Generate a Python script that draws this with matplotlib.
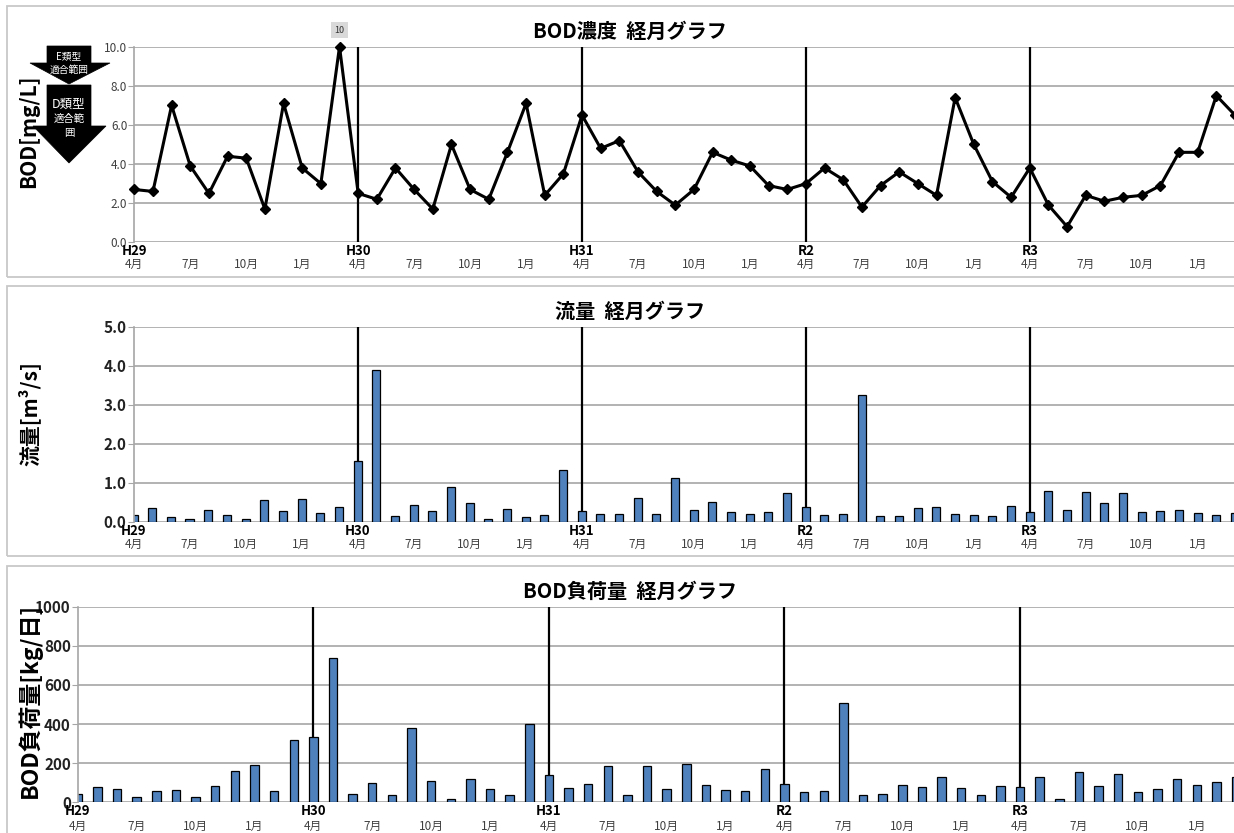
#!/usr/bin/env python3

import matplotlib
matplotlib.use('Agg')
import matplotlib.pyplot as plt
from matplotlib.patches import Polygon, Rectangle
import numpy as np

plt.rcParams['font.family'] = ['Noto Sans CJK JP', 'DejaVu Sans']

# monthly data, H29 Apr .. R4 Mar
years = ['H29', 'H30', 'H31', 'R2', 'R3']
months = ['4月', '7月', '10月', '1月']

bod = [2.7, 2.6, 7.0, 3.9, 2.5, 4.4, 4.3, 1.7, 7.1, 3.8, 3.0, 10.0,
       2.5, 2.2, 3.8, 2.7, 1.7, 5.0, 2.7, 2.2, 4.6, 7.1, 2.4, 3.5,
       6.5, 4.8, 5.2, 3.6, 2.6, 1.9, 2.7, 4.6, 4.2, 3.9, 2.9, 2.7,
       3.0, 3.8, 3.2, 1.8, 2.9, 3.6, 3.0, 2.4, 7.4, 5.0, 3.1, 2.3,
       3.8, 1.9, 0.8, 2.4, 2.1, 2.3, 2.4, 2.9, 4.6, 4.6, 7.5, 6.5]

flow = [0.18, 0.35, 0.12, 0.08, 0.29, 0.17, 0.08, 0.55, 0.27, 0.59, 0.23, 0.37,
        1.56, 3.88, 0.14, 0.43, 0.27, 0.88, 0.49, 0.08, 0.32, 0.11, 0.17, 1.33,
        0.27, 0.19, 0.21, 0.61, 0.19, 1.13, 0.30, 0.50, 0.26, 0.19, 0.24, 0.73,
        0.37, 0.16, 0.21, 3.26, 0.15, 0.14, 0.35, 0.38, 0.20, 0.17, 0.15, 0.41,
        0.25, 0.78, 0.30, 0.76, 0.47, 0.73, 0.26, 0.28, 0.31, 0.23, 0.17, 0.23]

load = [43, 80, 70, 26, 60, 65, 26, 82, 160, 191, 58, 317,
        336, 739, 44, 100, 37, 378, 111, 15, 119, 66, 36, 400,
        140, 73, 95, 184, 39, 184, 66, 196, 87, 63, 58, 169,
        94, 55, 60, 508, 37, 41, 90, 78, 131, 72, 37, 82,
        78, 128, 19, 157, 82, 143, 55, 68, 119, 90, 104, 128]

W, H = 1234, 833
fig = plt.figure(figsize=(W / 100, H / 100), dpi=100)


def fx(x):
    return x / W


def fy(y):
    return 1 - y / H


def make_ax(left, right, top, bottom):
    return fig.add_axes([fx(left), fy(bottom), fx(right - left), (bottom - top) / H])


GRID = '#a6a6a6'
BLUE = '#4f81bd'
x = np.arange(len(bod))
nx = len(bod) - 1


def setup(ax, ymax, step, fmt, tick_font, ypos_year, ypos_month, bold_ticks):
    ax.set_xlim(0, nx)
    ax.set_ylim(0, ymax)
    ticks = np.arange(0, ymax + step / 2, step)
    ax.set_yticks(ticks)
    ax.set_yticklabels([fmt.format(t) for t in ticks], fontsize=tick_font,
                       fontweight='bold' if bold_ticks else 'normal',
                       color='#222222' if bold_ticks else '#404040')
    ax.yaxis.grid(True, color=GRID, lw=1.2, zorder=0)
    ax.set_axisbelow(True)
    ax.tick_params(axis='y', length=4, color=GRID, pad=1)
    for s in ['top', 'right', 'bottom']:
        ax.spines[s].set_visible(False)
    ax.spines['left'].set_color(GRID)
    ax.spines['left'].set_linewidth(1.2)
    mt = [i for i in x if i % 3 == 0]
    ax.set_xticks(mt)
    ax.set_xticklabels([months[(i // 3) % 4] for i in mt], fontsize=8.5, color='#404040')
    ax.tick_params(axis='x', length=0, pad=ypos_month)
    for k, yr in enumerate(years):
        ax.annotate(yr, (12 * k, 0), xycoords=('data', 'axes fraction'),
                    xytext=(0, -ypos_year), textcoords='offset points',
                    ha='center', va='center', fontsize=9.5, fontweight='bold')
    for k in range(1, len(years)):
        ax.axvline(12 * k, color='black', lw=1.6, zorder=1)


def border(top, bottom):
    fig.add_artist(Rectangle((fx(7), fy(bottom)), 1.2, (bottom - top) / H,
                             transform=fig.transFigure, fill=False,
                             edgecolor='#c8c8c8', lw=1.3))


border(6, 277)
border(286, 556)
border(566, 900)

# panel 1: BOD concentration
ax1 = make_ax(134.3, 1235, 46.7, 242.3)
setup(ax1, 10, 2, '{:.1f}', 8.5, 6.5, 11, False)
ax1.plot(x, bod, color='black', lw=2.2, marker='D', ms=5.5, zorder=3, clip_on=False)
ax1.set_xlim(0, nx)
imax = int(np.argmax(bod))
ax1.annotate('{:g}'.format(bod[imax]), (imax, bod[imax]), xytext=(0, 12),
             textcoords='offset points', ha='center', va='center', fontsize=6.5,
             color='#333333',
             bbox=dict(boxstyle='square,pad=0.35', fc='#d9d9d9', ec='none'))
fig.text(fx(630), fy(31), 'BOD濃度  経月グラフ', ha='center', va='center',
         fontsize=14.5, fontweight='bold')

# class arrows
def arrow(top, head, tip, sx0, sx1, hx0, hx1, cx):
    pts = [(sx0, top), (sx1, top), (sx1, head), (hx1, head), (cx, tip),
           (hx0, head), (sx0, head)]
    fig.add_artist(Polygon([(fx(a), fy(b)) for a, b in pts], closed=True,
                           transform=fig.transFigure, fc='black', ec='black', lw=0.5))


arrow(46, 63, 84, 47, 91, 30, 110, 69)
arrow(85, 126, 163, 47, 91, 33, 106, 69)
fig.text(fx(69), fy(57), 'E類型', color='white', ha='center', va='center', fontsize=7)
fig.text(fx(69), fy(70), '適合範囲', color='white', ha='center', va='center', fontsize=7)
fig.text(fx(69), fy(104), 'D類型', color='white', ha='center', va='center', fontsize=9)
fig.text(fx(69), fy(119), '適合範', color='white', ha='center', va='center', fontsize=7.5)
fig.text(fx(69), fy(133), '囲', color='white', ha='center', va='center', fontsize=7.5)
fig.text(fx(29), fy(131), 'BOD[mg/L]', rotation=90, ha='center', va='center',
         fontsize=15, fontweight='bold')

# panel 2: flow
ax2 = make_ax(133.5, 1235, 326.7, 521.7)
setup(ax2, 5, 1, '{:.1f}', 11, 6.5, 12, True)
ax2.bar(x, flow, width=0.43, color=BLUE, edgecolor='black', lw=0.9, zorder=2)
ax2.set_xlim(0, nx)
fig.text(fx(630), fy(311), '流量  経月グラフ', ha='center', va='center',
         fontsize=14.5, fontweight='bold')
fig.text(fx(29), fy(414), '流量[m³/s]', rotation=90, ha='center', va='center',
         fontsize=15, fontweight='bold')

# panel 3: BOD load
ax3 = make_ax(77.8, 1236, 606.7, 802.3)
setup(ax3, 1000, 200, '{:.0f}', 11, 6, 13, True)
ax3.bar(x, load, width=0.43, color=BLUE, edgecolor='black', lw=0.9, zorder=2)
ax3.set_xlim(0, nx)
fig.text(fx(630), fy(591), 'BOD負荷量  経月グラフ', ha='center', va='center',
         fontsize=14.5, fontweight='bold')
fig.text(fx(30), fy(700), 'BOD負荷量[kg/日]', rotation=90, ha='center', va='center',
         fontsize=16.5, fontweight='bold', zorder=0)

fig.savefig('out.png', dpi=100)
